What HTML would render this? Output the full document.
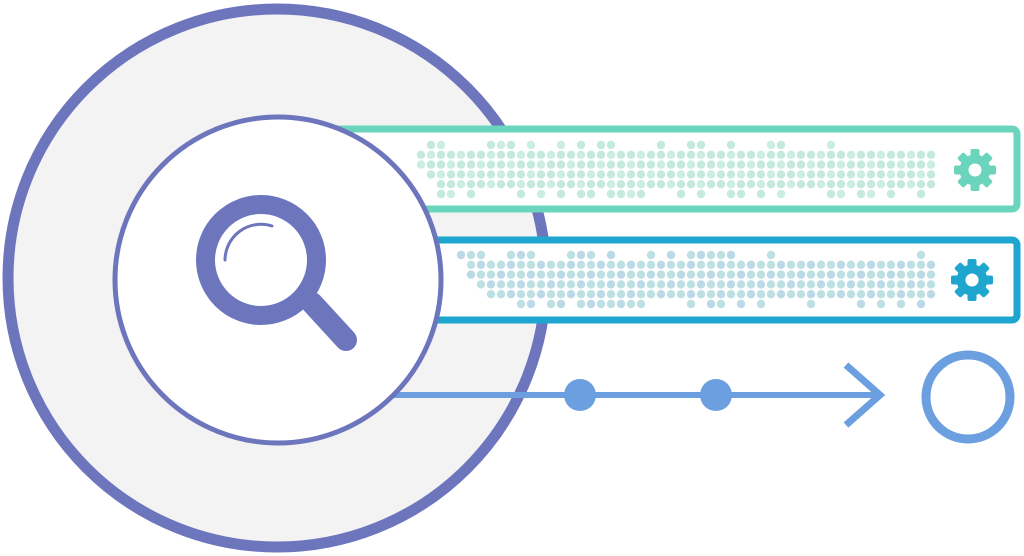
<!DOCTYPE html>
<html><head><meta charset="utf-8"><style>
html,body{margin:0;padding:0;background:#fff;}
svg{display:block;}
</style></head><body>
<svg id="s" width="1024" height="556" viewBox="0 0 1024 556" xmlns="http://www.w3.org/2000/svg">
<circle cx="277" cy="278" r="269" fill="#f3f3f4" stroke="#6d76bd" stroke-width="11"/>
<rect x="300" y="129" width="717" height="80" rx="5" fill="#fff" stroke="#6bd4bc" stroke-width="7"/>
<rect x="300" y="240" width="717" height="80" rx="5" fill="#fff" stroke="#1ea6cf" stroke-width="7"/>
<g id="d1"></g><g id="d2"></g>
<line x1="330" y1="395" x2="882" y2="395" stroke="#6b9fe0" stroke-width="6"/>
<circle cx="580" cy="395" r="16" fill="#6b9fe0"/>
<circle cx="716" cy="395" r="16" fill="#6b9fe0"/>
<polyline points="846,365 880,395 846,425" fill="none" stroke="#6b9fe0" stroke-width="7"/>
<circle cx="968" cy="397" r="42" fill="#fff" stroke="#6b9fe0" stroke-width="9"/>
<circle cx="278" cy="280" r="163" fill="#fff" stroke="#6d76bd" stroke-width="5"/>
<circle cx="261" cy="260" r="55.5" fill="none" stroke="#6d76bd" stroke-width="19"/>
<line x1="312" y1="303" x2="346" y2="340" stroke="#6d76bd" stroke-width="22" stroke-linecap="round"/>
<path d="M 225 260 A 36 36 0 0 1 272 226" fill="none" stroke="#6d76bd" stroke-width="3" stroke-linecap="round"/>
<g id="g1" fill="#6bd4bc" transform="translate(975,170)"></g>
<g id="g2" fill="#1ea6cf" transform="translate(972,280)"></g>
</svg>
<script>
(function(){
var NS="http://www.w3.org/2000/svg";
var seed=7;function rnd(){seed=(seed*9301+49297)%233280;return seed/233280;}
function dots(id,x0,y0,n,c1,c2){
 var g=document.getElementById(id);
 var starts=[0,1,1,2,3,4];
 for(var c=0;c<n;c++){for(var r=0;r<6;r++){
  var on;
  if(r==0) on=rnd()<0.35; else if(r==5) on=c>=3&&rnd()<0.45; else on=c>=starts[r];
  if(!on)continue;
  var e=document.createElementNS(NS,"circle");
  e.setAttribute("cx",x0+c*10);e.setAttribute("cy",y0+r*9.8);e.setAttribute("r",4.2);
  e.setAttribute("fill",(r+c)%3==0?c2:c1);g.appendChild(e);}}
}
dots("d1",411,145,53,"#c3eadd","#cbede2");
dots("d2",461,255,48,"#bde0e2","#bbd9e6");
function gear(id){
 var g=document.getElementById(id);
 for(var i=0;i<8;i++){var t=document.createElementNS(NS,"rect");
  t.setAttribute("x",-4.5);t.setAttribute("y",-21);t.setAttribute("width",9);t.setAttribute("height",10);t.setAttribute("rx",2);
  t.setAttribute("transform","rotate("+(i*45)+")");g.appendChild(t);}
 var c=document.createElementNS(NS,"circle");c.setAttribute("r",15.5);g.appendChild(c);
 var h=document.createElementNS(NS,"circle");h.setAttribute("r",6.5);h.setAttribute("fill","#fff");g.appendChild(h);
}
gear("g1");gear("g2");
})();
</script>
</body></html>
